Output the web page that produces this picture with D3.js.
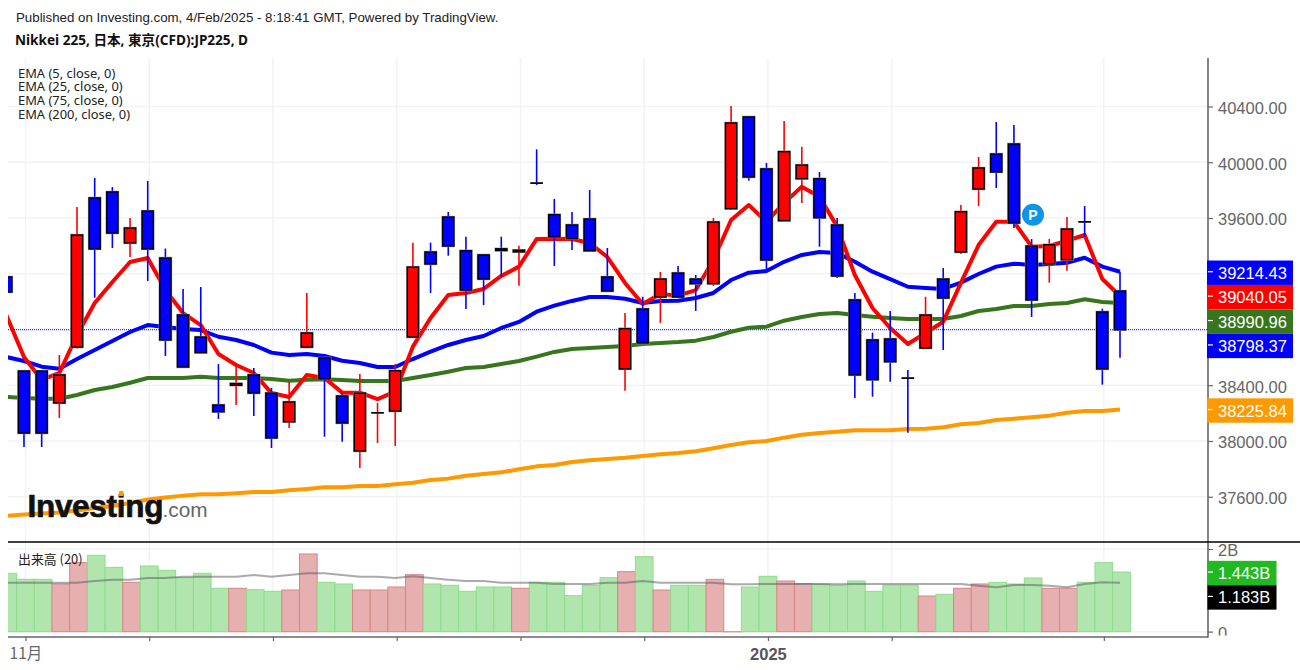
<!DOCTYPE html>
<html>
<head>
<meta charset="utf-8">
<script src="https://cdn.jsdelivr.net/npm/d3@7"></script>
<style>
  body { margin: 0; background: #fff; }
  text { font-family: "Liberation Sans", Arial, sans-serif; }
  .ind { font-family: "Noto Sans", "Noto Sans CJK JP", sans-serif; font-size: 12.9px; fill: #222; }
</style>
</head>
<body>
<svg id="chart" width="1300" height="670"></svg>
<script>
// candles, oldest first. "r" closes up, "b" closes down
var side  = ["b","b","b","r","r","b","b","r","b","b","b","b","b","r","b","b","r","r","b","b","r","r","r","r","b","b","b","b","b","r","b","b","b","b","b","r","b","r","b","b","r","r","b","b","r","r","b","b","b","b","b","b","r","b","r","r","b","b","b","r","r","b","b","b"];
var open  = [39177,38502,38502,38273,38674,39744,39787,39421,39650,39313,38904,38746,38258,38400,38474,38344,38138,38674,38596,38323,37928,38203,38215,38746,39356,39607,39365,39335,39379,39357,39851,39624,39550,39593,39177,38517,38947,39033,39205,39162,39129,39667,40325,39952,39581,39882,39882,39550,39012,38725,38732,38452,38667,39162,39356,39808,40059,40131,39399,39270,39301,39573,38926,39076];
var high  = [39190,38502,38502,38617,39679,39887,39822,39600,39866,39381,39091,39105,38552,38545,38524,38380,38423,39062,38617,38344,38481,38273,38552,39423,39423,39643,39466,39342,39466,39401,40093,39736,39643,39801,39385,38918,39035,39213,39256,39191,39600,40404,40330,39995,40296,40112,39930,39600,39062,38777,38933,38509,39035,39241,39693,40038,40289,40267,39449,39449,39607,39686,38949,39215];
var low   = [39060,37957,37957,38165,38664,39028,39385,39320,39148,38610,38525,38630,38158,38258,38179,37950,38093,38665,38031,37995,37806,37986,37964,38739,39062,39330,38947,38976,39179,39114,39837,39256,39370,39360,39072,38361,38696,38847,39026,38933,39112,39660,39868,39227,39575,39708,39394,39170,38309,38318,38425,38060,38660,38653,39342,39686,39815,39528,38890,39136,39222,39466,38404,38598];
var close = [39069,38057,38057,38474,39478,39378,39492,39528,39378,38725,38531,38634,38210,38412,38344,38022,38280,38775,38445,38129,38344,38203,38504,39248,39270,39399,39083,39162,39367,39369,39851,39464,39451,39365,39076,38806,38703,39162,39033,39129,39571,40282,39894,39299,40076,39980,39602,39184,38474,38440,38569,38452,38904,39026,39645,39959,39930,39564,39012,39408,39521,39573,38517,38798.37];

var ema5   = [38904,38603,38438,38488,38761,38990,39141,39284,39313,39083,38918,38832,38624,38545,38488,38344,38316,38474,38452,38347,38347,38301,38354,38677,38883,39048,39062,39091,39184,39251,39449,39451,39449,39421,39320,39134,38983,39055,39043,39083,39299,39586,39693,39573,39708,39825,39753,39538,39191,38954,38811,38696,38775,38856,39134,39406,39573,39573,39394,39399,39437,39478,39162,39040.05];
var ema25  = [38603,38574,38533,38519,38588,38653,38718,38782,38832,38818,38804,38796,38748,38725,38689,38634,38617,38624,38610,38576,38560,38531,38531,38588,38641,38689,38725,38753,38811,38854,38928,38971,39005,39033,39033,39021,38990,39005,39007,39026,39062,39155,39208,39220,39286,39335,39356,39349,39286,39215,39162,39107,39098,39091,39136,39198,39251,39272,39263,39270,39279,39315,39251,39214.43];
var ema75  = [38316,38309,38303,38303,38330,38366,38387,38418,38452,38452,38452,38461,38452,38452,38452,38445,38433,38440,38443,38438,38430,38430,38430,38452,38474,38497,38524,38531,38552,38574,38605,38639,38660,38667,38674,38682,38696,38703,38710,38720,38746,38784,38813,38820,38863,38890,38911,38918,38904,38892,38883,38875,38875,38875,38897,38933,38947,38969,38969,38983,38990,39017,38997,38990.96];
var ema200 = [37462,37473,37480,37487,37501,37519,37534,37555,37580,37595,37608,37618,37618,37625,37634,37634,37646,37656,37668,37668,37677,37677,37689,37701,37720,37730,37751,37763,37775,37797,37818,37828,37849,37862,37871,37880,37892,37905,37914,37926,37948,37971,37991,38000,38024,38045,38057,38067,38077,38077,38077,38086,38088,38098,38120,38129,38151,38160,38170,38182,38203,38215,38215,38225.84];

// volume in billions
var volume = [1.412,1.267,1.267,1.154,1.669,1.848,1.557,1.195,1.589,1.485,1.306,1.412,1.050,1.050,1.016,0.977,1.008,1.879,1.195,1.154,1.008,1.008,1.081,1.378,1.154,1.122,0.977,1.081,1.081,1.050,1.195,1.195,0.871,1.122,1.306,1.451,1.814,1.008,1.122,1.122,1.267,0,1.081,1.340,1.226,1.161,1.154,1.122,1.226,0.977,1.122,1.122,0.863,0.904,1.050,1.154,1.195,1.154,1.299,1.050,1.050,1.195,1.669,1.443];
var volumeSide = ["g","g","g","r","r","g","g","r","g","g","g","g","g","r","g","g","r","r","g","g","r","r","r","r","g","g","g","g","g","r","g","g","g","g","g","r","g","r","g","g","r","r","g","g","r","r","g","g","g","g","g","g","r","g","r","r","g","g","g","r","r","g","g","g"];
var volumeMa = [1.185,1.185,1.185,1.185,1.185,1.226,1.258,1.258,1.299,1.299,1.330,1.330,1.330,1.330,1.371,1.330,1.371,1.412,1.412,1.371,1.330,1.330,1.299,1.340,1.299,1.258,1.226,1.226,1.185,1.185,1.185,1.154,1.154,1.154,1.185,1.185,1.226,1.185,1.185,1.185,1.185,1.146,1.146,1.154,1.154,1.154,1.154,1.146,1.154,1.154,1.154,1.154,1.154,1.154,1.154,1.112,1.074,1.129,1.129,1.112,1.074,1.154,1.195,1.183];

var priceTicks = [37600,38000,38400,38800,39200,39600,40000,40400];
var hiddenPriceLabels = [38800,39200]; // sit under the price tags
var volumeTicks = [0,2];
var dateTicks = [1,8,15,22,29,36,43,50,62];
var dateLabels = {1:"11月", 43:"2025"};
var emaLabels = ["EMA (5, close, 0)","EMA (25, close, 0)","EMA (75, close, 0)","EMA (200, close, 0)"];
var lastPrice = 38798.37;

var BLUE = "#0000ff", RED = "#ff0000", GREEN = "#38761d", ORANGE = "#ff9900";
var candleColor = {r: RED, b: BLUE};
var volFill = {g: "#b0e6ae", r: "#e6b0b0"}, volEdge = {g: "#8ddc8c", r: "#d98484"};

var svg = d3.select("#chart");
var x = d3.scaleLinear().domain([0,63]).range([6.3,1120]);
var y = d3.scaleLinear().domain([38000,40400]).range([441,106.5]);
var yv = d3.scaleLinear().domain([0,2]).range([631.7,549]);
var gridOffset = 1.5;

var defs = svg.append("defs");
defs.append("clipPath").attr("id","mainClip").append("rect").attr("x",8).attr("y",58).attr("width",1200).attr("height",484);
defs.append("clipPath").attr("id","volClip").append("rect").attr("x",8).attr("y",543).attr("width",1200).attr("height",94);
defs.append("clipPath").attr("id","volAxisClip").append("rect").attr("x",0).attr("y",543).attr("width",92).attr("height",92.5);

// grid
var grid = svg.append("g").attr("stroke","#f3f3f3").attr("stroke-width",1.5);
grid.selectAll(".gv").data(dateTicks).enter().append("line")
  .attr("x1",function(d){return x(d)+gridOffset;}).attr("x2",function(d){return x(d)+gridOffset;})
  .attr("y1",58).attr("y2",632);
grid.selectAll(".gh").data(priceTicks).enter().append("line")
  .attr("x1",8).attr("x2",1208).attr("y1",function(d){return y(d);}).attr("y2",function(d){return y(d);});
grid.selectAll(".gw").data(volumeTicks).enter().append("line")
  .attr("x1",8).attr("x2",1208).attr("y1",function(d){return yv(d);}).attr("y2",function(d){return yv(d);});

// main pane
var main = svg.append("g").attr("clip-path","url(#mainClip)");

main.append("line").attr("x1",8).attr("x2",1208).attr("y1",y(lastPrice)).attr("y2",y(lastPrice))
  .attr("stroke",BLUE).attr("stroke-width",1).attr("stroke-dasharray","1,1");

var emaLine = d3.line().x(function(d,i){return x(i);}).y(function(d){return y(d);});
[[ema200,ORANGE],[ema75,GREEN],[ema25,BLUE],[ema5,RED]].forEach(function(s){
  main.append("path").attr("d",emaLine(s[0])).attr("fill","none")
    .attr("stroke",s[1]).attr("stroke-width",4).attr("stroke-linejoin","round");
});

var candles = main.selectAll(".candle").data(d3.range(side.length)).enter().append("g").attr("class","candle");
candles.append("line")
  .attr("x1",function(i){return x(i);}).attr("x2",function(i){return x(i);})
  .attr("y1",function(i){return y(high[i]);}).attr("y2",function(i){return y(low[i]);})
  .attr("stroke",function(i){return candleColor[side[i]];}).attr("stroke-width",1.6);
function bodyTop(i){ return y(Math.max(open[i],close[i])); }
// a zero height rect draws nothing, dojis still need their bar
function bodyH(i){ return Math.max(Math.abs(y(open[i])-y(close[i])), 0.2); }
// soft grey edge under the black one
candles.append("rect")
  .attr("x",function(i){return x(i)-5.6;}).attr("width",11.2)
  .attr("y",bodyTop).attr("height",bodyH)
  .attr("fill","none").attr("stroke","#999").attr("stroke-width",function(i){return bodyH(i)>1 ? 2.4 : 1.4;});
candles.append("rect")
  .attr("x",function(i){return x(i)-5.6;}).attr("width",11.2)
  .attr("y",bodyTop).attr("height",bodyH)
  .attr("fill",function(i){return candleColor[side[i]];})
  .attr("stroke","#000").attr("stroke-width",1.4);

// logo
var logo = svg.append("g");
logo.append("text").attr("x",27.5).attr("y",517).attr("font-size",31.5).attr("font-weight","bold")
  .attr("letter-spacing",-0.3).attr("fill","#111").attr("stroke","#111").attr("stroke-width",0.7).text("Investing");
logo.append("rect").attr("x",119).attr("y",491).attr("width",4.5).attr("height",5).attr("fill",ORANGE);
logo.append("text").attr("x",162.5).attr("y",517).attr("font-size",20.8).attr("fill","#666").text(".com");
// publish marker
svg.append("circle").attr("cx",1033).attr("cy",214.7).attr("r",11).attr("fill","#0f95e8");
svg.append("text").attr("x",1033).attr("y",219.5).attr("text-anchor","middle").attr("font-size",14)
  .attr("font-weight","bold").attr("fill","#fff").text("P");

// volume pane
var vol = svg.append("g").attr("clip-path","url(#volClip)");
var barW = x(1)-x(0);
vol.selectAll(".vbar").data(volume).enter().append("rect").attr("class","vbar")
  .attr("x",function(d,i){return x(i)-barW/2+gridOffset;}).attr("width",barW)
  .attr("y",function(d){return yv(d);}).attr("height",function(d){return Math.max(yv(0)-yv(d),0.2);})
  .attr("fill",function(d,i){return volFill[volumeSide[i]];})
  .attr("stroke",function(d,i){return volEdge[volumeSide[i]];}).attr("stroke-width",1);
var maLine = d3.line().x(function(d,i){return x(i);}).y(function(d){return yv(d);});
vol.append("path").attr("d",maLine(volumeMa)).attr("fill","none")
  .attr("stroke","#555").attr("stroke-opacity",0.5).attr("stroke-width",2);

// axes
function styleAxis(g){
  g.select(".domain").remove();
  g.selectAll(".tick line").attr("stroke","#666").attr("stroke-width",1.2);
  g.selectAll(".tick text").attr("fill","#666").attr("font-size",16.5)
    .style("font-family","'Liberation Sans', Arial, sans-serif");
}
var priceFormat = d3.format(".2f");
var axP = svg.append("g").attr("transform","translate(1208,0)")
  .call(d3.axisRight(y).tickValues(priceTicks).tickFormat(function(d){
    return hiddenPriceLabels.indexOf(d)>=0 ? "" : priceFormat(d);
  }).tickSize(5).tickPadding(5));
styleAxis(axP);
axP.selectAll(".tick text").attr("dy","0.42em");

var axV = svg.append("g").attr("transform","translate(1208,0)").attr("clip-path","url(#volAxisClip)")
  .call(d3.axisRight(yv).tickValues(volumeTicks).tickFormat(function(d){return d? d+"B":"0";}).tickSize(5).tickPadding(5));
styleAxis(axV);
axV.selectAll(".tick text").attr("dy","0.42em");

var axX = svg.append("g").attr("transform","translate("+gridOffset+",637)")
  .call(d3.axisBottom(x).tickValues(dateTicks).tickFormat(function(d){return dateLabels[d]||"";}).tickSize(4).tickPadding(6));
styleAxis(axX);
axX.selectAll(".tick text").attr("dy","0.78em");
axX.selectAll(".tick text").filter(function(d){return d===43;}).attr("font-weight","bold").attr("fill","#555");
axX.selectAll(".tick text").filter(function(d){return d===1;}).attr("font-size",15.5)
  .style("font-family","'Noto Sans CJK JP', sans-serif");

svg.append("line").attr("x1",1208).attr("x2",1208).attr("y1",58).attr("y2",637.7).attr("stroke","#666").attr("stroke-width",1.6);
svg.append("line").attr("x1",8).attr("x2",1208).attr("y1",637).attr("y2",637).attr("stroke","#666").attr("stroke-width",1.6);
svg.append("line").attr("x1",8).attr("x2",1300).attr("y1",542).attr("y2",542).attr("stroke","#000").attr("stroke-width",1.6);

// price tags, pushed down so they do not overlap
var tags = [[39214.43,BLUE],[39040.05,RED],[38990.96,GREEN],[lastPrice,BLUE],[38225.84,ORANGE]];
var tagH = 24.4, prevY = -100;
tags.forEach(function(t){
  var cy = Math.max(y(t[0])+1, prevY+tagH);
  prevY = cy;
  svg.append("rect").attr("x",1207).attr("y",cy-tagH/2).attr("width",86).attr("height",tagH).attr("fill",t[1]);
  svg.append("line").attr("x1",1208).attr("x2",1213).attr("y1",cy-1).attr("y2",cy-1).attr("stroke","#fff").attr("stroke-width",1.2);
  svg.append("text").attr("x",1218).attr("y",cy+6).attr("font-size",16.5).attr("fill","#fff").text(priceFormat(t[0]));
});
var volTags = [[1.443,"#22b822"],[1.183,"#000"]];
prevY = -100;
volTags.forEach(function(t){
  var cy = Math.max(yv(t[0])+1, prevY+tagH);
  prevY = cy;
  svg.append("rect").attr("x",1207.5).attr("y",cy-tagH/2).attr("width",69).attr("height",tagH).attr("fill",t[1]);
  svg.append("line").attr("x1",1208).attr("x2",1213).attr("y1",cy-1).attr("y2",cy-1).attr("stroke","#fff").attr("stroke-width",1.2);
  svg.append("text").attr("x",1218).attr("y",cy+6).attr("font-size",16.5).attr("fill","#fff").text(d3.format(".3f")(t[0])+"B");
});

// header and pane labels
svg.append("text").attr("x",16).attr("y",21.5).attr("font-size",13.3).attr("fill","#222")
  .text("Published on Investing.com, 4/Feb/2025 - 8:18:41 GMT, Powered by TradingView.");
svg.append("text").attr("x",15).attr("y",45).attr("font-size",13.6).attr("font-weight","bold").attr("fill","#111")
  .style("font-family","'Noto Sans','Noto Sans CJK JP',sans-serif")
  .text("Nikkei 225, 日本, 東京(CFD):JP225, D");
svg.selectAll(".emaLabel").data(emaLabels).enter().append("text").attr("class","ind emaLabel")
  .attr("x",18).attr("y",function(d,i){return 77.5+i*13.7;}).text(function(d){return d;});
svg.append("text").attr("class","ind").attr("x",18).attr("y",563.5)
  .style("font-family","'Noto Sans CJK JP',sans-serif").text("出来高 (20)");
</script>
</body>
</html>
